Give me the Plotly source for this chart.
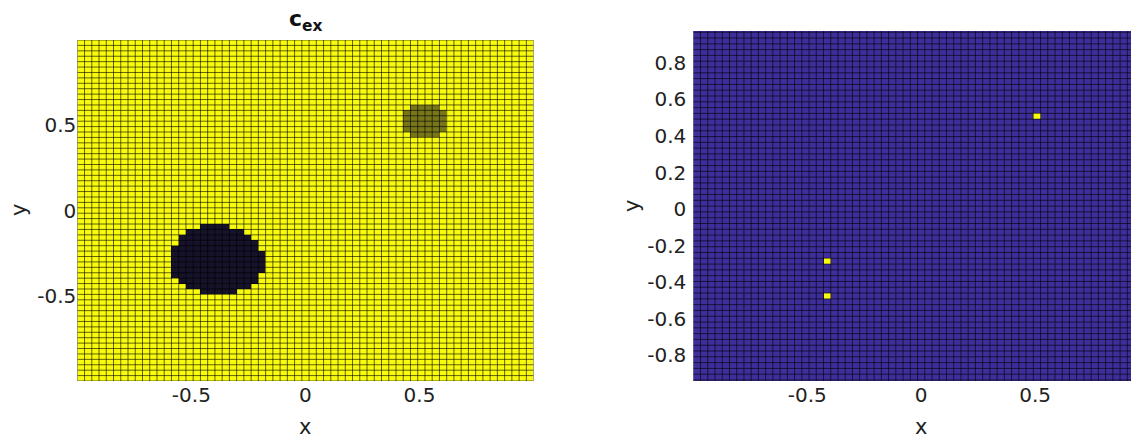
import plotly.graph_objects as go

# ---------------- data ----------------
N_CELLS = 63                      # cells per side on [-1, 1]
x_tick_vals = [-0.5, 0, 0.5]
x_tick_text = ["-0.5", "0", "0.5"]
left_y_tick_vals = [-0.5, 0, 0.5]
left_y_tick_text = ["-0.5", "0", "0.5"]
right_y_tick_vals = [-0.8, -0.6, -0.4, -0.2, 0, 0.2, 0.4, 0.6, 0.8]
right_y_tick_text = ["-0.8", "-0.6", "-0.4", "-0.2", "0", "0.2", "0.4", "0.6", "0.8"]

# left panel: background value 1 (yellow); dark blob value 0; olive blob value 0.5
left_background = 1.0
dark_value = 0.0
dark_rows = [28, 27, 26, 25, 24, 23, 22, 21, 20, 19, 18, 17, 16]
dark_col_start = [17, 15, 14, 14, 13, 13, 13, 13, 13, 13, 14, 15, 17]
dark_col_end = [20, 22, 23, 24, 24, 25, 25, 25, 25, 24, 24, 23, 21]
olive_value = 0.5
olive_rows = [50, 49, 48, 47, 46, 45]
olive_col_start = [46, 45, 45, 45, 45, 46]
olive_col_end = [49, 50, 50, 50, 50, 49]

# right panel: background 0 (blue), marked cells 1 (yellow)
right_background = 0.0
marked_cols = [18, 18, 47]
marked_rows = [22, 16, 47]
marked_value = 1.0

# ---------------- build grids ----------------
h = 2.0 / N_CELLS
centers = [-1 + h * (i + 0.5) for i in range(N_CELLS)]
edges = [-1 + h * i for i in range(N_CELLS + 1)]

zl = [[left_background] * N_CELLS for _ in range(N_CELLS)]
for r, a, b in zip(dark_rows, dark_col_start, dark_col_end):
    for c in range(a, b + 1):
        zl[r][c] = dark_value
for r, a, b in zip(olive_rows, olive_col_start, olive_col_end):
    for c in range(a, b + 1):
        zl[r][c] = olive_value

zr = [[right_background] * N_CELLS for _ in range(N_CELLS)]
for c, r in zip(marked_cols, marked_rows):
    zr[r][c] = marked_value

def grid_lines():
    xs, ys = [], []
    for e in edges:
        xs += [e, e, None]
        ys += [-1, 1, None]
        xs += [-1, 1, None]
        ys += [e, e, None]
    return xs, ys

gx, gy = grid_lines()

# the page body has an 8px margin: lay out in page pixels, shift by 8
OFF = 8
W, H = 1139 - OFF, 440 - OFF
def px(x):
    return (x - OFF) / W
def py(y):
    return 1 - (y - OFF) / H

DARK = "#15122A"
OLIVE = "#77761A"
YELLOW = "#F9FB0E"
BLUE = "#3D2E9A"
LINE = "rgba(0,0,0,0.6)"
FONT = "DejaVu Sans"

fig = go.Figure()
fig.add_trace(go.Heatmap(
    x=centers, y=centers, z=zl, zmin=0, zmax=1,
    colorscale=[[0, DARK], [0.5, OLIVE], [1, YELLOW]],
    showscale=False, xaxis="x", yaxis="y", hoverinfo="skip"))
fig.add_trace(go.Scatter(x=gx, y=gy, mode="lines", line=dict(color=LINE, width=1),
                         xaxis="x", yaxis="y", hoverinfo="skip", showlegend=False))
fig.add_trace(go.Heatmap(
    x=centers, y=centers, z=zr, zmin=0, zmax=1,
    colorscale=[[0, BLUE], [1, YELLOW]],
    showscale=False, xaxis="x2", yaxis="y2", hoverinfo="skip"))
fig.add_trace(go.Scatter(x=gx, y=gy, mode="lines", line=dict(color=LINE, width=1),
                         xaxis="x2", yaxis="y2", hoverinfo="skip", showlegend=False))

axis_common = dict(showgrid=False, zeroline=False, showline=False, ticks="",
                   tickfont=dict(family=FONT, size=20, color="#222222"))

fig.update_layout(
    width=W, height=H, margin=dict(l=0, r=0, t=0, b=0),
    paper_bgcolor="white", plot_bgcolor="white", showlegend=False,
    xaxis=dict(domain=[px(77.3), px(533.6)], range=[-1, 1], anchor="y",
               tickvals=x_tick_vals, ticktext=x_tick_text, **axis_common),
    yaxis=dict(domain=[py(381), py(40)], range=[-1, 1], anchor="x",
               tickvals=left_y_tick_vals, ticktext=left_y_tick_text, **axis_common),
    xaxis2=dict(domain=[px(693.3), 1.0], range=[-1, 0.956], anchor="y2",
                tickvals=x_tick_vals, ticktext=x_tick_text, **axis_common),
    yaxis2=dict(domain=[py(381), py(31)], range=[-0.942, 0.975], anchor="x2",
                tickvals=right_y_tick_vals, ticktext=right_y_tick_text,
                ticklabelstandoff=6, **axis_common),
)

ann_font = dict(family=FONT, size=21, color="#222222")
fig.add_annotation(x=px(305), y=py(427), xref="paper", yref="paper", text="x",
                   showarrow=False, font=ann_font, xanchor="center", yanchor="middle")
fig.add_annotation(x=px(921), y=py(427), xref="paper", yref="paper", text="x",
                   showarrow=False, font=ann_font, xanchor="center", yanchor="middle")
fig.add_annotation(x=px(19), y=py(210), xref="paper", yref="paper", text="y",
                   showarrow=False, font=ann_font, xanchor="center", yanchor="middle", textangle=-90)
fig.add_annotation(x=px(632), y=py(206), xref="paper", yref="paper", text="y",
                   showarrow=False, font=ann_font, xanchor="center", yanchor="middle", textangle=-90)
fig.add_annotation(x=px(305), y=py(21), xref="paper", yref="paper", text="<b>c<sub>ex</sub></b>",
                   showarrow=False, font=dict(family=FONT, size=22, color="#111111"),
                   xanchor="center", yanchor="middle")

fig.write_html("out.html")
